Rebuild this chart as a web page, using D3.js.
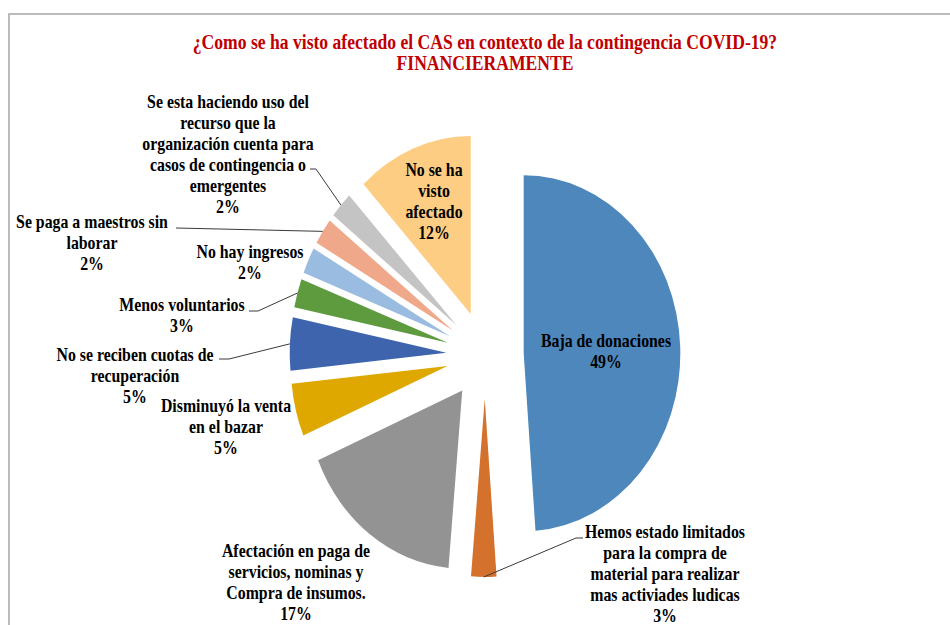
<html>
<script src='https://d3js.org/d3.v7.min.js'></script>
<style>
 body {margin: 0; background: white;}
 text {font-family: "Liberation Serif", "Times New Roman", serif; font-weight: bold;}
</style>
<body onload='init()'>
<svg width=950 height=625></svg>
<script>
// data (share of answers, %)
var categories = [
  "Baja de donaciones",
  "Hemos estado limitados\npara la compra de\nmaterial para realizar\nmas activiades ludicas",
  "Afectación en paga de\nservicios, nominas y\nCompra de insumos.",
  "Disminuyó la venta\nen el bazar",
  "No se reciben cuotas de\nrecuperación",
  "Menos voluntarios",
  "No hay ingresos",
  "Se paga a maestros sin\nlaborar",
  "Se esta haciendo uso del\nrecurso que la\norganización cuenta para\ncasos de contingencia o\nemergentes",
  "No se ha\nvisto\nafectado"
];
var values = [48.8, 2.6, 17.2, 4.8, 4.8, 2.6, 2.4, 2.4, 2.4, 12.0];
var colors = ["#4e87bc", "#d4722d", "#939393", "#dfa800", "#3d64ad",
              "#5e9a3e", "#9bbce1", "#f0a88a", "#c4c4c4", "#fdcd84"];
var titleLines = ["¿Como se ha visto afectado el CAS en contexto de la contingencia COVID-19?",
                  "FINANCIERAMENTE"];

// layout: label centre (first line) and leader line points near the label
var labelPos = [
  {x: 606, y: 341},
  {x: 665, y: 532, leader: [[583, 538], [576, 538]]},
  {x: 296, y: 551},
  {x: 226, y: 406},
  {x: 135, y: 355, leader: [[219, 359], [229, 359]]},
  {x: 182, y: 305, leader: [[249, 311], [258, 311]]},
  {x: 250, y: 252},
  {x: 92, y: 222, leader: [[176, 228]]},
  {x: 228, y: 102, leader: [[310, 169], [316, 169]]},
  {x: 434, y: 170}
];

function init() {
  var svg = d3.select('svg');
  var cx = 485, cy = 355, R = 178, explode = 44, sx = 0.88, lineH = 21;

  // frame
  svg.append('rect')
    .attr('x', 9).attr('y', 14).attr('width', 1000).attr('height', 700)
    .attr('fill', 'none').attr('stroke', '#ababab').attr('stroke-width', 1.6);

  var data = categories.map(function(c, i) { return {name: c, value: values[i], color: colors[i]}; });
  var total = d3.sum(values);
  var pie = d3.pie().sort(null).value(function(d) { return d.value; });
  var arcs = pie(data);
  var arc = d3.arc().innerRadius(0).outerRadius(R);

  var g = svg.append('g')
    .attr('transform', 'translate(' + cx + ',' + cy + ') scale(' + sx + ',1)');

  g.selectAll('path')
    .data(arcs)
    .enter()
    .append('path')
    .attr('d', arc)
    .attr('fill', function(d) { return d.data.color; })
    .attr('transform', function(d) {
      var m = (d.startAngle + d.endAngle) / 2;
      return 'translate(' + (explode * Math.sin(m)) + ',' + (-explode * Math.cos(m)) + ')';
    });

  // leader lines
  arcs.forEach(function(d, i) {
    var lp = labelPos[i];
    if (!lp.leader) return;
    var m = (d.startAngle + d.endAngle) / 2;
    var px = cx + sx * (R + explode) * Math.sin(m);
    var py = cy - (R + explode) * Math.cos(m);
    var pts = lp.leader.concat([[px, py]]);
    svg.append('path')
      .attr('d', d3.line()(pts))
      .attr('fill', 'none')
      .attr('stroke', '#3a3a3a')
      .attr('stroke-width', 1);
  });

  // labels (text condensed like the original)
  var tg = svg.append('g').attr('transform', 'scale(' + sx + ',1)');
  arcs.forEach(function(d, i) {
    var lp = labelPos[i];
    var lines = d.data.name.split('\n');
    lines.push(Math.round(d.data.value / total * 100) + '%');
    var t = tg.append('text')
      .attr('text-anchor', 'middle')
      .attr('font-size', 18)
      .attr('fill', '#000');
    lines.forEach(function(l, k) {
      t.append('tspan')
        .attr('x', lp.x / sx)
        .attr('y', lp.y + k * lineH)
        .attr('dy', '0.35em')
        .text(l);
    });
  });

  // title
  var tt = tg.append('text')
    .attr('text-anchor', 'middle')
    .attr('font-size', 20)
    .attr('fill', '#c00000');
  titleLines.forEach(function(l, k) {
    tt.append('tspan')
      .attr('x', 485 / sx)
      .attr('y', 42 + k * 21)
      .attr('dy', '0.35em')
      .text(l);
  });
}
</script>
</body>
</html>
